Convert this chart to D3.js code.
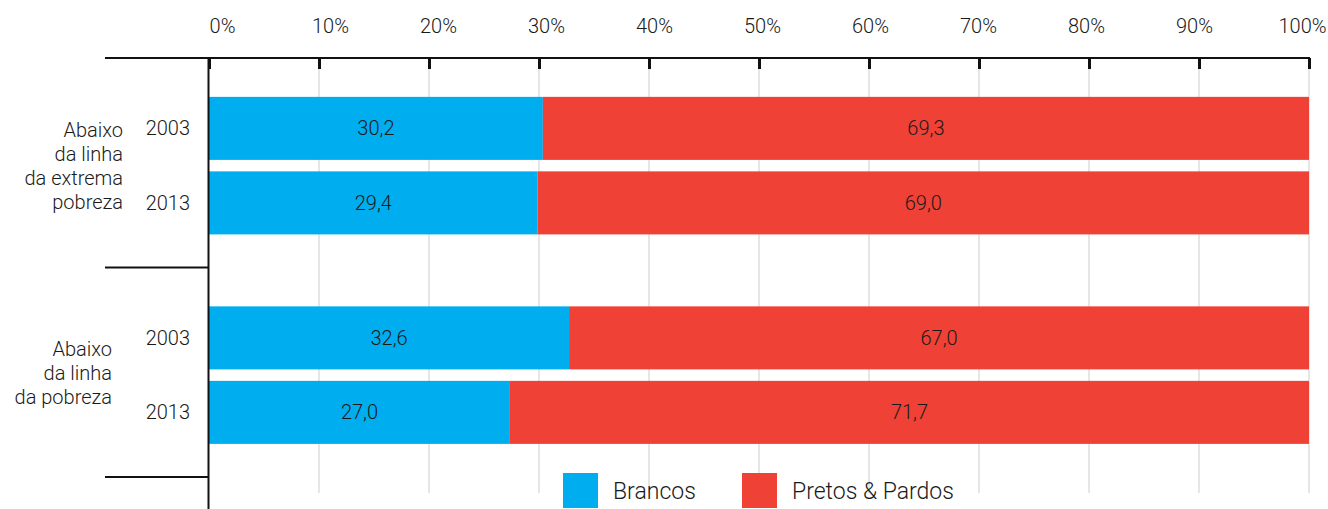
<!DOCTYPE html>
<html>
<head>
<meta charset="utf-8">
<script src="https://cdn.jsdelivr.net/npm/d3@7"></script>
<style>
  body { margin: 0; background: #fff; }
  text { font-family: Roboto, "Noto Sans", sans-serif; font-weight: 300; fill: #1a1a1a; }
</style>
</head>
<body>
<div id="chart"></div>
<script>
// data
var groups = ['extrema', 'pobreza']
var groupLabels = [['Abaixo', 'da linha', 'da extrema', 'pobreza'], ['Abaixo', 'da linha', 'da pobreza']]
var years = ['2003', '2013']
var brancos = [[30.2, 29.4], [32.6, 27.0]]
var pretos = [[69.3, 69.0], [67.0, 71.7]]
var xTicks = [0, 10, 20, 30, 40, 50, 60, 70, 80, 90, 100]
var seriesNames = ['Brancos', 'Pretos & Pardos']
var colors = ['#00aeef', '#ef4136']

var width = 1328, height = 509

var svg = d3.select('#chart').append('svg')
  .attr('width', width)
  .attr('height', height)

var x = d3.scaleLinear().domain([0, 100]).range([209, 1309])
// tick labels in the original sit on a slightly narrower spread than the ticks
var xLabel = d3.scaleLinear().domain([0, 100]).range([222, 1302])
var yGroup = d3.scaleBand().domain(groups).range([58, 477])
var yYear = d3.scaleBand().domain(years).range([0, yGroup.bandwidth()])
  .paddingInner(0.154).paddingOuter(0.483).align(0.54)

// gridlines
svg.append('g').selectAll('line')
  .data(xTicks.slice(1))
  .enter().append('line')
  .attr('x1', function (d) { return x(d) })
  .attr('x2', function (d) { return x(d) })
  .attr('y1', 58)
  .attr('y2', 493)
  .attr('stroke', '#e6e6e6')
  .attr('stroke-width', 2)

// bars
var rows = []
groups.forEach(function (g, gi) {
  years.forEach(function (yr, yi) {
    var total = brancos[gi][yi] + pretos[gi][yi]
    rows.push({
      group: g, year: yr,
      b: brancos[gi][yi], p: pretos[gi][yi],
      bShare: 100 * brancos[gi][yi] / total
    })
  })
})

var rowG = svg.append('g').selectAll('g')
  .data(rows)
  .enter().append('g')
  .attr('transform', function (d) { return 'translate(0,' + (yGroup(d.group) + yYear(d.year)) + ')' })

rowG.append('rect')
  .attr('x', x(0))
  .attr('width', function (d) { return x(d.bShare) - x(0) })
  .attr('height', yYear.bandwidth())
  .attr('fill', colors[0])

rowG.append('rect')
  .attr('x', function (d) { return x(d.bShare) })
  .attr('width', function (d) { return x(100) - x(d.bShare) })
  .attr('height', yYear.bandwidth())
  .attr('fill', colors[1])

var fmt = function (v) { return d3.format('.1f')(v).replace('.', ',') }

rowG.append('text')
  .attr('x', function (d) { return (x(0) + x(d.bShare)) / 2 })
  .attr('y', yYear.bandwidth() / 2)
  .attr('dy', '0.35em')
  .attr('text-anchor', 'middle')
  .style('font-size', '20px')
  .text(function (d) { return fmt(d.b) })

rowG.append('text')
  .attr('x', function (d) { return (x(d.bShare) + x(100)) / 2 })
  .attr('y', yYear.bandwidth() / 2)
  .attr('dy', '0.35em')
  .attr('text-anchor', 'middle')
  .style('font-size', '20px')
  .text(function (d) { return fmt(d.p) })

// year labels
rowG.append('text')
  .attr('x', 190)
  .attr('y', yYear.bandwidth() / 2)
  .attr('dy', '0.35em')
  .attr('text-anchor', 'end')
  .style('font-size', '20px')
  .text(function (d) { return d.year })

// group labels
var labelRight = [123, 112]
var labelShift = [3, 1]
groups.forEach(function (g, gi) {
  var lines = groupLabels[gi]
  var mid = yGroup(g) + yGroup.bandwidth() / 2 + labelShift[gi]
  var t = svg.append('text')
    .attr('text-anchor', 'end')
    .style('font-size', '20px')
  lines.forEach(function (l, li) {
    t.append('tspan')
      .attr('x', labelRight[gi])
      .attr('y', mid + (li - (lines.length - 1) / 2) * 24)
      .attr('dy', '0.35em')
      .text(l)
  })
})

// top axis
var axis = d3.axisTop(x)
  .tickValues(xTicks)
  .tickFormat(function (d) { return d + '%' })
  .tickSize(-11)
  .tickSizeOuter(0)
  .tickPadding(25)

var axG = svg.append('g')
  .attr('transform', 'translate(0,58)')
  .call(axis)
axG.select('.domain').remove()
axG.selectAll('.tick line').attr('stroke', '#111').attr('stroke-width', 3)
axG.selectAll('.tick text')
  .attr('x', function (d) { return xLabel(d) - x(d) })
  .style('font-size', '20px')
  .style('font-family', 'Roboto, sans-serif')
  .attr('fill', '#1a1a1a')

// frame lines
svg.append('line')
  .attr('x1', 105).attr('x2', x(100) + 1)
  .attr('y1', 58).attr('y2', 58)
  .attr('stroke', '#111').attr('stroke-width', 2)

svg.append('line')
  .attr('x1', 208.5).attr('x2', 208.5)
  .attr('y1', 57).attr('y2', height)
  .attr('stroke', '#111').attr('stroke-width', 2)

svg.append('g').selectAll('line')
  .data(groups.slice(1).map(function (g) { return yGroup(g) }).concat([yGroup.range()[1]]))
  .enter().append('line')
  .attr('x1', 105).attr('x2', 208)
  .attr('y1', function (d) { return d })
  .attr('y2', function (d) { return d })
  .attr('stroke', '#111').attr('stroke-width', 2)

// legend
var legend = svg.append('g').attr('transform', 'translate(563,473)')
var legX = [0, 179]
seriesNames.forEach(function (s, i) {
  legend.append('rect')
    .attr('x', legX[i]).attr('y', 0)
    .attr('width', 35).attr('height', 35)
    .attr('fill', colors[i])
  legend.append('text')
    .attr('x', legX[i] + 50).attr('y', 18)
    .attr('dy', '0.35em')
    .style('font-size', '23px')
    .text(s)
})
</script>
</body>
</html>
